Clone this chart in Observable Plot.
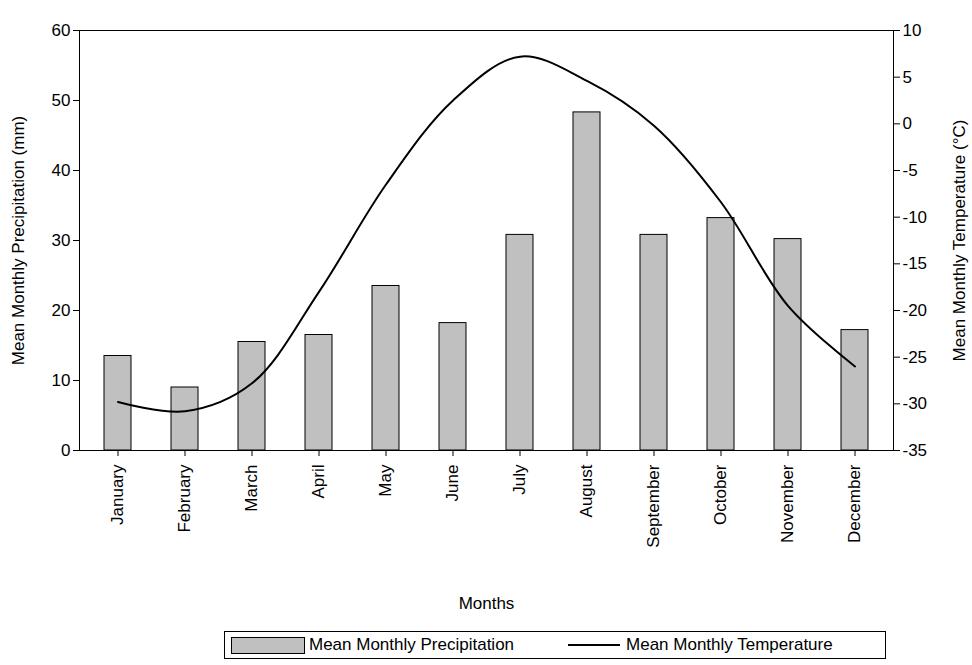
<!DOCTYPE html>
<html><head><meta charset="utf-8">
<script src="https://cdn.jsdelivr.net/npm/d3@7"></script>
<script src="https://cdn.jsdelivr.net/npm/@observablehq/plot@0.6"></script>
<style>
body{margin:0;background:#fff;font-family:"Liberation Sans",Arial,sans-serif;}
#legend{position:absolute;left:224px;top:631px;width:662px;height:28px;border:1px solid #000;box-sizing:border-box;display:flex;align-items:center;font-size:17px;}
.sw{display:inline-block;width:72px;height:15px;background:#c0c0c0;border:1px solid #000;margin:0 4px 0 6px;}
.ln{display:inline-block;width:52px;height:2px;background:#000;margin:0 6px 0 54px;}
</style></head><body>
<div id="chart"></div>
<div id="legend"><span class="sw"></span>Mean Monthly Precipitation<span class="ln"></span>Mean Monthly Temperature</div>
<script>
// data
const months = ["January","February","March","April","May","June","July","August","September","October","November","December"];
const precip = [13.5, 9, 15.5, 16.5, 23.5, 18.2, 30.8, 48.3, 30.8, 33.2, 30.2, 17.2];
const temp = [-29.8, -30.8, -27.8, -18, -6.5, 2.5, 7.2, 4.6, -0.2, -8.4, -19.5, -26];
const tempTicks = [10, 5, 0, -5, -10, -15, -20, -25, -30, -35];

// temperature (-35..10) mapped onto the precipitation scale (0..60)
const toP = t => (t + 35) * 60 / 45;
const data = months.map((m, i) => ({month: m, p: precip[i], t: toP(temp[i])}));

const chart = Plot.plot({
  width: 972, height: 620,
  marginLeft: 79, marginRight: 79, marginTop: 30, marginBottom: 170,
  style: {fontSize: 17, fontFamily: "Liberation Sans, Arial, sans-serif", color: "#000"},
  x: {domain: months, paddingInner: 0.6, paddingOuter: 0.32, label: null},
  y: {domain: [0, 60], label: null},
  marks: [
    Plot.barY(data, {x: "month", y: "p", fill: "#c0c0c0", stroke: "#000", strokeWidth: 1}),
    Plot.line(data, {x: "month", y: "t", stroke: "#000", strokeWidth: 2, curve: "catmull-rom"}),
    Plot.frame({stroke: "#000"}),
    Plot.axisY({ticks: [0,10,20,30,40,50,60], tickSize: 6, label: null}),
    Plot.axisY({anchor: "right", ticks: tempTicks.map(toP), tickFormat: v => String(Math.round(v * 45 / 60 - 35)), tickSize: 6, label: null}),
    Plot.axisX({tickRotate: -90, tickSize: 6, tickPadding: 8, label: null}),
    Plot.text(["Mean Monthly Precipitation (mm)"], {frameAnchor: "left", textAnchor: "middle", dx: -61, rotate: -90, fontSize: 17}),
    Plot.text(["Mean Monthly Temperature (°C)"], {frameAnchor: "right", textAnchor: "middle", dx: 66, rotate: -90, fontSize: 17}),
    Plot.text(["Months"], {frameAnchor: "bottom", dy: 158, fontSize: 17})
  ]
});
document.getElementById("chart").append(chart);
</script>
</body></html>
